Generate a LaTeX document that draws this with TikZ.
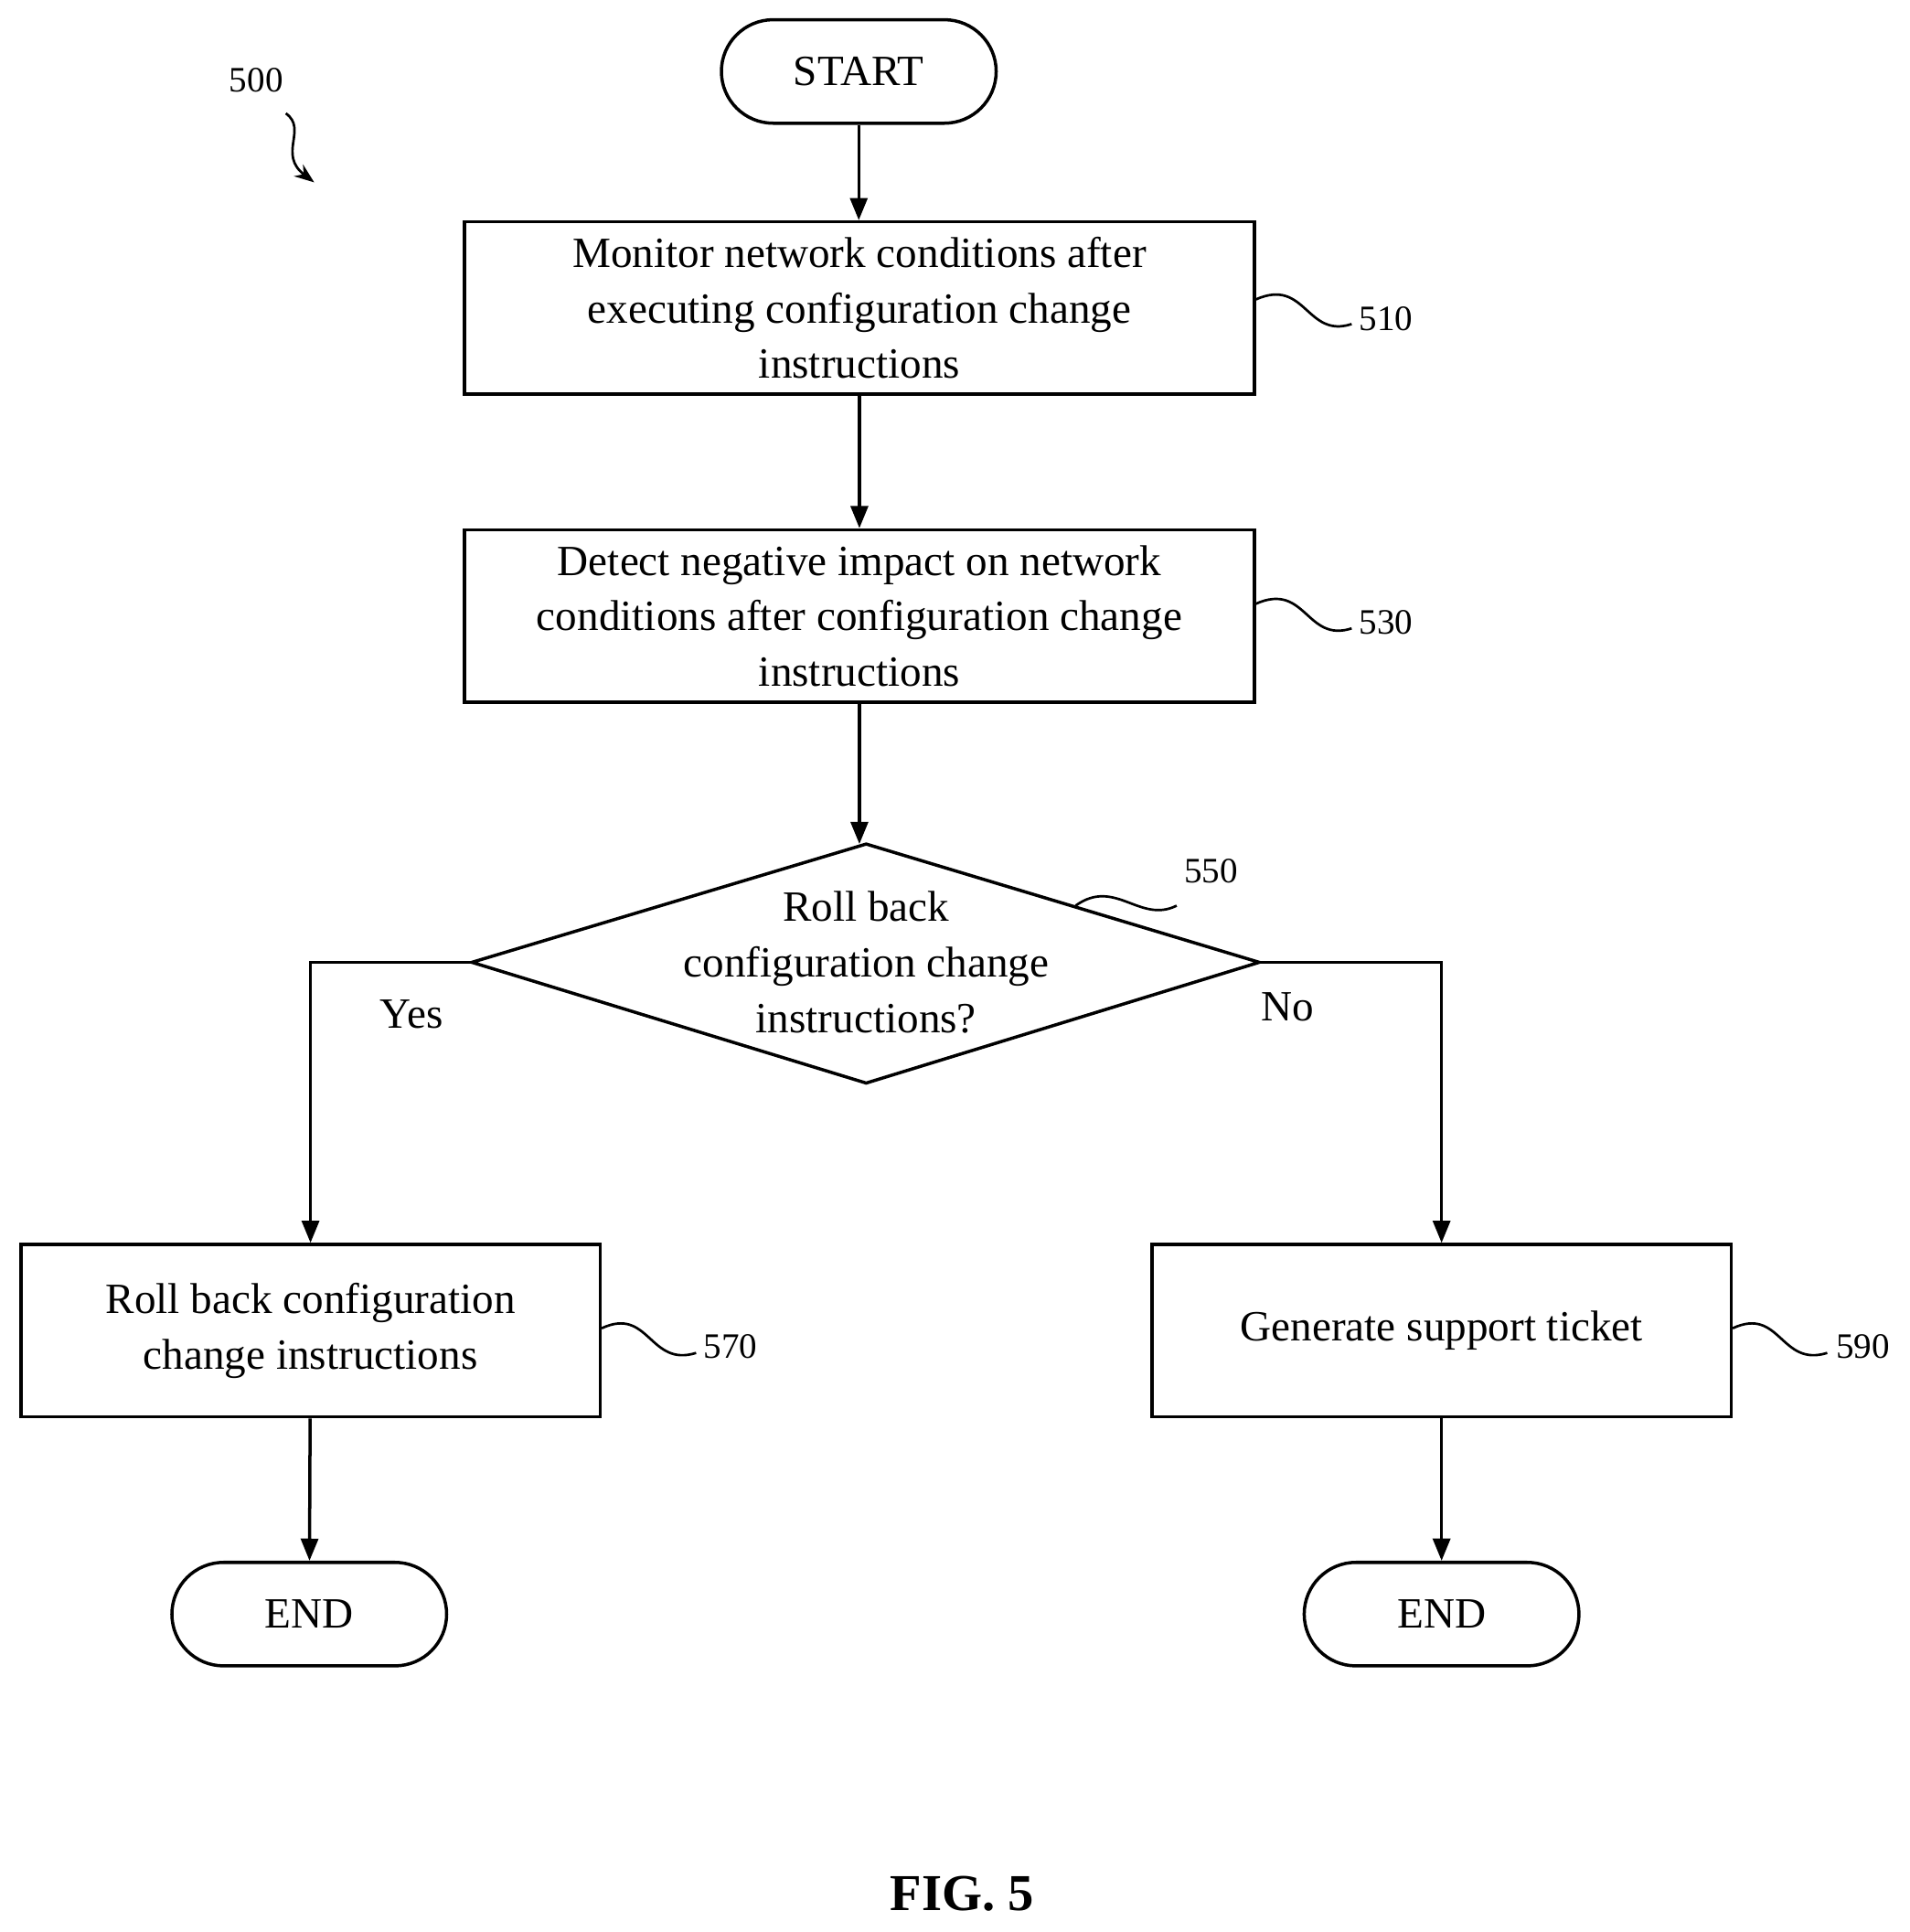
\documentclass[tikz,border=0pt]{standalone}
\usepackage{fontspec}
\setmainfont{Liberation Serif}
\usetikzlibrary{arrows.meta}
\tikzset{every picture/.style={line width=1.3pt},
  box/.style={draw,rectangle,inner sep=0pt,align=center,font=\fontsize{17.5}{22.5}\selectfont},
  term/.style={draw,rectangle,rounded corners=21pt,minimum width=111.5pt,minimum height=42pt,font=\fontsize{17.5}{22.5}\selectfont},
  lbl/.style={font=\fontsize{14.5}{17}\selectfont,inner sep=0.75pt},
  flow/.style={-{Triangle[length=9pt,width=7pt]}},
  lead/.style={line width=1pt}}
\begin{document}
\begin{tikzpicture}[x=0.5pt,y=0.5pt,yscale=-1,xscale=1]
\useasboundingbox (0,0) rectangle (1550,1568);
% terminals
\node [term] (start) at (697,58) {START};
\node [term] (end1) at (251,1310) {END};
\node [term] (end2) at (1170,1310) {END};
% process boxes
\node [box,minimum width=320.5pt,minimum height=70pt] (q510) at (697.5,250) {Monitor network conditions after\\executing configuration change\\instructions};
\node [box,minimum width=320.5pt,minimum height=70pt] (q530) at (697.5,500) {Detect negative impact on network\\conditions after configuration change\\instructions};
\node [box,minimum width=235pt,minimum height=70pt] (q570) at (252,1080) {Roll back configuration\\change instructions};
\node [box,minimum width=235pt,minimum height=70pt] (q590) at (1170,1080) {Generate support ticket};
% decision
\coordinate (dtop) at (703,685);
\coordinate (dleft) at (383,781);
\coordinate (dright) at (1022,781);
\coordinate (dbot) at (703,879);
\draw (dtop) -- (dright) -- (dbot) -- (dleft) -- cycle;
\node [box,draw=none] (q550) at (703,781) {Roll back\\configuration change\\instructions?};
% flow
\draw [flow] (start) -- (start |- q510.north);
\draw [flow] (q510) -- (q530);
\draw [flow] (q530.south) -- (q530.south |- dtop);
\draw [flow] (dleft) -| (q570.north);
\draw [flow] (dright) -| (q590.north);
\draw [flow] (q570) -- (end1);
\draw [flow] (q590) -- (end2);
\node [box,draw=none] (yes) at (334,823) {Yes};
\node [box,draw=none] (no) at (1045,817) {No};
% reference numerals
\node [lbl] (n500) at (208,65) {500};
\node [lbl] (n510) at (1125,259) {510};
\node [lbl] (n530) at (1125,505) {530};
\node [lbl] (n550) at (983,707) {550};
\node [lbl] (n570) at (593,1093) {570};
\node [lbl] (n590) at (1512,1093) {590};
\draw [lead] (q510.east |- 0,243) .. controls (1060,225) and (1060,275) .. (1097,263);
\draw [lead] (q530.east |- 0,490) .. controls (1060,472) and (1060,522) .. (1097,510);
\draw [lead] (q570.east |- 0,1078) .. controls (527,1060) and (527,1110) .. (565,1098);
\draw [lead] (q590.east |- 0,1078) .. controls (1445,1060) and (1445,1110) .. (1483,1098);
\draw [lead] (873,735) .. controls (905,712) and (925,750) .. (955,735);
\draw [lead,-{Stealth[length=8pt,width=6pt]}] (232,92) .. controls (250,105) and (225,125) .. (255,148);
\node [font=\bfseries\fontsize{21}{25}\selectfont] (fig) at (781,1537) {FIG. 5};
\end{tikzpicture}
\end{document}
